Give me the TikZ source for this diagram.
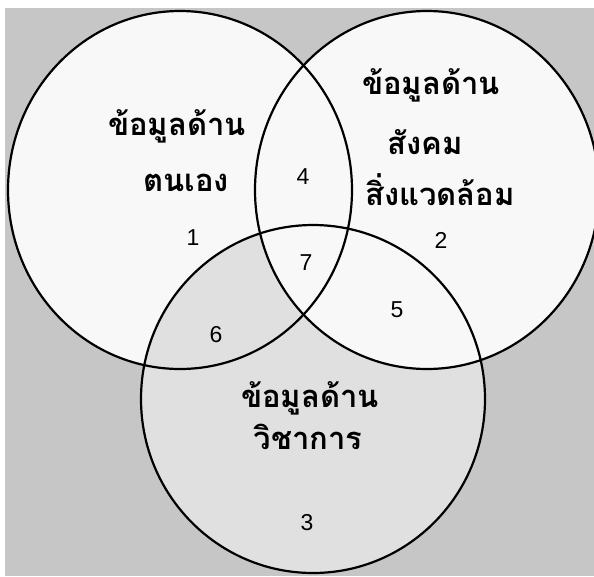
\documentclass[tikz,border=0pt]{standalone}
\usepackage{fontspec}
\setmainfont{Liberation Sans}
\newfontfamily\thaifont[Script=Thai]{Loma}
\definecolor{bgout}{HTML}{C6C6C6}
\definecolor{inlight}{HTML}{E0E0E0}
\definecolor{inwhite}{HTML}{F8F8F8}
\tikzset{
  ring/.style={draw=black, line width=2.2pt},
  thlab/.style={font=\thaifont\bfseries\fontsize{31}{34}\selectfont, align=center, inner sep=0pt},
  numlab/.style={font=\fontsize{23}{26}\selectfont, inner sep=0pt}
}
\begin{document}
\begin{tikzpicture}[x=1pt,y=-1pt]
\useasboundingbox (0,0) rectangle (594,576);
\fill[white] (0,0) rectangle (594,576);
\fill[bgout] (5,8) rectangle (594,576);
\coordinate (cl) at (180,190);
\coordinate (cr) at (427,190);
\coordinate (cb) at (313,399);
\fill[inwhite] (cl) ellipse [x radius=172, y radius=179];
\fill[inlight] (cb) ellipse [x radius=172, y radius=174];
\fill[inwhite] (cr) ellipse [x radius=172, y radius=179];
\draw[ring] (cl) ellipse [x radius=172, y radius=179];
\draw[ring] (cr) ellipse [x radius=172, y radius=179];
\draw[ring] (cb) ellipse [x radius=172, y radius=174];
\node[thlab] (t1a) at (177,126) {ข้อมูลด้าน};
\node[thlab] (t1b) at (186,183) {ตนเอง};
\node[thlab] (t2a) at (431,85) {ข้อมูลด้าน};
\node[thlab] (t2b) at (425,142) {สังคม};
\node[thlab] (t2c) at (440,190) {สิ่งแวดล้อม};
\node[thlab] (t3a) at (310,398) {ข้อมูลด้าน};
\node[thlab] (t3b) at (308,437) {วิชาการ};
\node[numlab] (n1) at (193,238) {1};
\node[numlab] (n2) at (441,240) {2};
\node[numlab] (n3) at (307,523) {3};
\node[numlab] (n4) at (303,177) {4};
\node[numlab] (n5) at (397,310) {5};
\node[numlab] (n6) at (216,335) {6};
\node[numlab] (n7) at (306,263) {7};
\end{tikzpicture}
\end{document}
